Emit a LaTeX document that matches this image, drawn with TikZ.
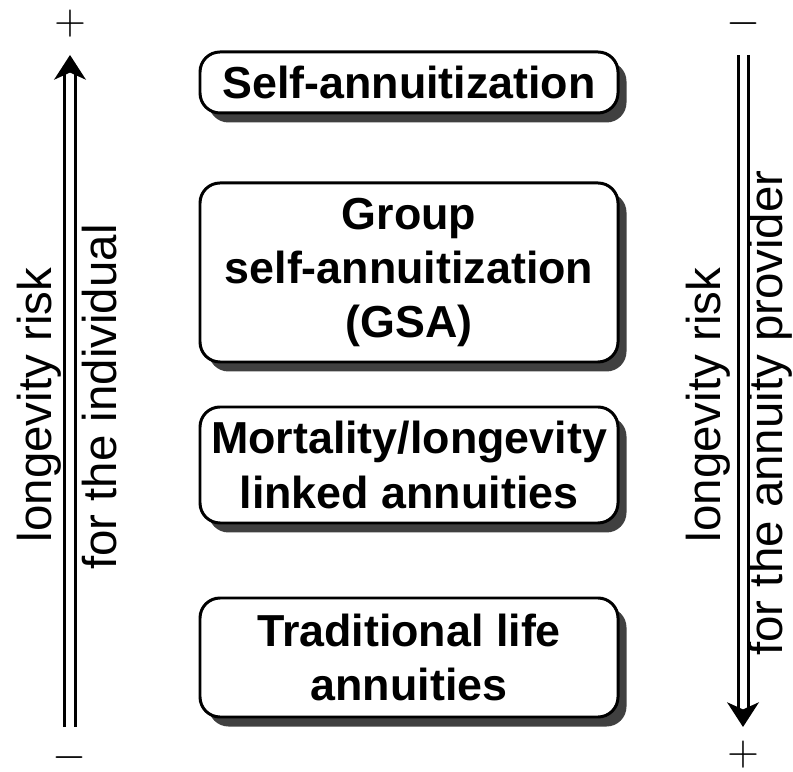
\documentclass[tikz,border=0pt]{standalone}
\usepackage{fontspec}
\setmainfont{Liberation Sans}
\usetikzlibrary{arrows.meta,shadows}

\tikzset{
  offre/.style={draw=black, line width=1.7pt, fill=white, rounded corners=0.4cm,
    minimum width=8.36cm, align=center, inner sep=2pt,
    font=\fontsize{25.5}{31}\selectfont\bfseries,
    drop shadow={shadow xshift=0.17cm, shadow yshift=-0.19cm, fill=black!75, opacity=1}},
  risque/.style={draw=black, line width=1.7pt, double=white, double distance=4pt,
    -{Stealth[length=14pt,width=18pt,inset=4pt]}},
  legende/.style={rotate=90, inner sep=0pt, font=\fontsize{27}{31}\selectfont},
  signe/.style={inner sep=0pt, font=\fontsize{25}{31}\selectfont}
}

\begin{document}
\begin{tikzpicture}
      % Cadre
      \useasboundingbox (0,0) rectangle (15.86,15.42);

      % Produits
      \node[offre, minimum height=1.22cm] (self) at (8.18,13.77) {Self-annuitization};
      \node[offre, minimum height=3.58cm] (gsa) at (8.18,9.97) {Group\\self-annuitization\\(GSA)};
      \node[offre, minimum height=2.32cm] (lies) at (8.18,6.12) {Mortality/longevity\\linked annuities};
      \node[offre, minimum height=2.38cm] (trad) at (8.18,2.27) {Traditional life\\annuities};

      % Fleches de risque
      \coordinate (gBas) at (1.4,0.88);
      \coordinate (gHaut) at (1.4,14.32);
      \coordinate (dHaut) at (14.86,14.32);
      \coordinate (dBas) at (14.86,0.88);
      \draw[risque] (gBas) -- (gHaut);
      \draw[risque] (dHaut) -- (dBas);

      % Signes
      \node[signe] (gPlus) at (1.4,14.95) {$+$};
      \node[signe] (gMoins) at (1.4,0.26) {$-$};
      \node[signe] (dMoins) at (14.86,14.95) {$-$};
      \node[signe] (dPlus) at (14.86,0.33) {$+$};

      % Legendes
      \node[legende] (gRisque) at (0.78,7.32) {longevity risk};
      \node[legende] (gIndiv) at (2.0,7.48) {for the individual};
      \node[legende] (dRisque) at (14.16,7.32) {longevity risk};
      \node[legende] (dFourn) at (15.4,7.16) {for the annuity provider};
\end{tikzpicture}
\end{document}
